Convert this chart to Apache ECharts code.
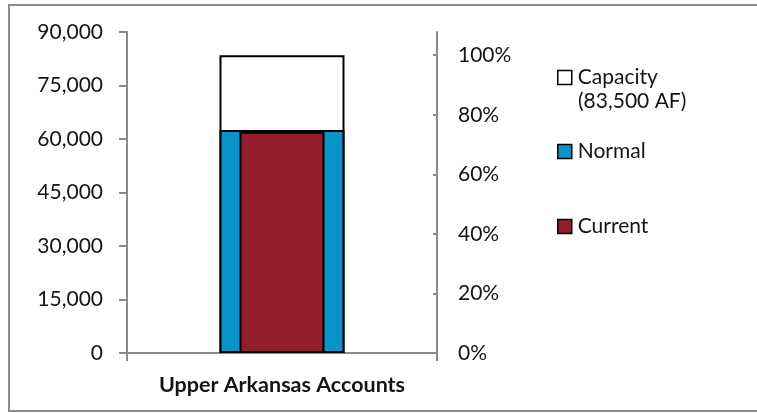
<!DOCTYPE html>
<html>
<head>
<meta charset="utf-8">
<script src="https://cdn.jsdelivr.net/npm/echarts@6/dist/echarts.min.js"></script>
<style>
  html, body { margin: 0; padding: 0; background: #fff; }
  #chart { width: 757px; height: 413px; }
</style>
</head>
<body>
<div id="chart"></div>
<script>
// Reservoir storage for the Upper Arkansas accounts (acre-feet)
const categories = ['Upper Arkansas Accounts'];
const capacityValues = [83500];
const normalValues = [62500];
const currentValues = [62000];
const leftTicks = [0, 15000, 30000, 45000, 60000, 75000, 90000];
const percentTicks = [0, 20, 40, 60, 80, 100];

const capacity = capacityValues[0];
const leftMax = leftTicks[leftTicks.length - 1];

const FONT = 'Lato';
const TEXT = '#141414';
const AXIS_GRAY = '#8a8a8a';
const BLUE = '#0a93c8';
const RED = '#921d2d';

const chart = echarts.init(document.getElementById('chart'), null, { renderer: 'canvas' });

function legendBox(name, color, top) {
  return {
    show: true,
    data: [{ name: name, icon: 'rect', itemStyle: { color: color, borderColor: '#000', borderWidth: 1.5 } }],
    left: 557,
    top: top,
    itemWidth: 14,
    itemHeight: 14,
    itemGap: 0,
    padding: 0,
    selectedMode: false,
    textStyle: { fontFamily: FONT, fontSize: 21, color: TEXT, padding: [0, 0, 0, 1] }
  };
}

chart.setOption({
  animation: false,
  backgroundColor: '#fff',
  textStyle: { fontFamily: FONT },
  grid: { left: 127, right: 320, top: 32, bottom: 60, containLabel: false },
  graphic: [
    {
      type: 'rect',
      shape: { x: 9, y: 5, width: 760, height: 406 },
      style: { fill: 'none', stroke: '#8c8c8c', lineWidth: 2 },
      silent: true
    },
    {
      type: 'text',
      left: 578,
      top: 91,
      style: { text: '(83,500 AF)', font: '21px ' + FONT, fill: TEXT },
      silent: true
    }
  ],
  legend: [
    legendBox('Capacity', '#fff', 67),
    legendBox('Normal', BLUE, 141),
    legendBox('Current', RED, 216)
  ],
  xAxis: [
    {
      type: 'category',
      data: categories,
      boundaryGap: true,
      axisLine: { lineStyle: { color: AXIS_GRAY, width: 2 } },
      axisTick: { show: true, length: 8, lineStyle: { color: AXIS_GRAY, width: 2 } },
      axisLabel: { margin: 21, fontFamily: FONT, fontSize: 21.5, fontWeight: 'bold', color: TEXT }
    },
    {
      type: 'category',
      data: categories,
      position: 'bottom',
      show: false
    }
  ],
  yAxis: [
    {
      type: 'value',
      min: 0,
      max: leftMax,
      interval: 15000,
      position: 'left',
      splitLine: { show: false },
      axisLine: { show: true, lineStyle: { color: AXIS_GRAY, width: 2 } },
      axisTick: { show: true, length: 8, lineStyle: { color: AXIS_GRAY, width: 2 } },
      axisLabel: {
        margin: 24,
        fontFamily: FONT, fontSize: 21, color: TEXT,
        formatter: v => v.toLocaleString('en-US')
      }
    },
    {
      // percent of capacity, sharing the left axis scale
      type: 'value',
      min: 0,
      max: leftMax / capacity * 100,
      position: 'right',
      splitLine: { show: false },
      axisLine: { show: true, lineStyle: { color: AXIS_GRAY, width: 2 } },
      axisTick: { show: true, inside: true, length: 4, customValues: percentTicks, lineStyle: { color: AXIS_GRAY, width: 2 } },
      axisLabel: {
        margin: 21,
        customValues: percentTicks,
        fontFamily: FONT, fontSize: 21, color: TEXT,
        formatter: v => Math.round(v) + '%'
      }
    }
  ],
  series: [
    {
      name: 'Capacity',
      type: 'bar',
      xAxisIndex: 0,
      yAxisIndex: 0,
      data: capacityValues,
      barWidth: 125,
      barGap: '-100%',
      itemStyle: { color: '#fff', borderColor: '#000', borderWidth: 2 },
      z: 1
    },
    {
      name: 'Normal',
      type: 'bar',
      xAxisIndex: 0,
      yAxisIndex: 0,
      data: normalValues,
      barWidth: 125,
      barGap: '-100%',
      itemStyle: { color: BLUE, borderColor: '#000', borderWidth: 2 },
      z: 2
    },
    {
      name: 'Current',
      type: 'bar',
      xAxisIndex: 1,
      yAxisIndex: 0,
      data: currentValues,
      barWidth: 85,
      itemStyle: { color: RED, borderColor: '#000', borderWidth: 2 },
      z: 3
    }
  ]
});
</script>
</body>
</html>
